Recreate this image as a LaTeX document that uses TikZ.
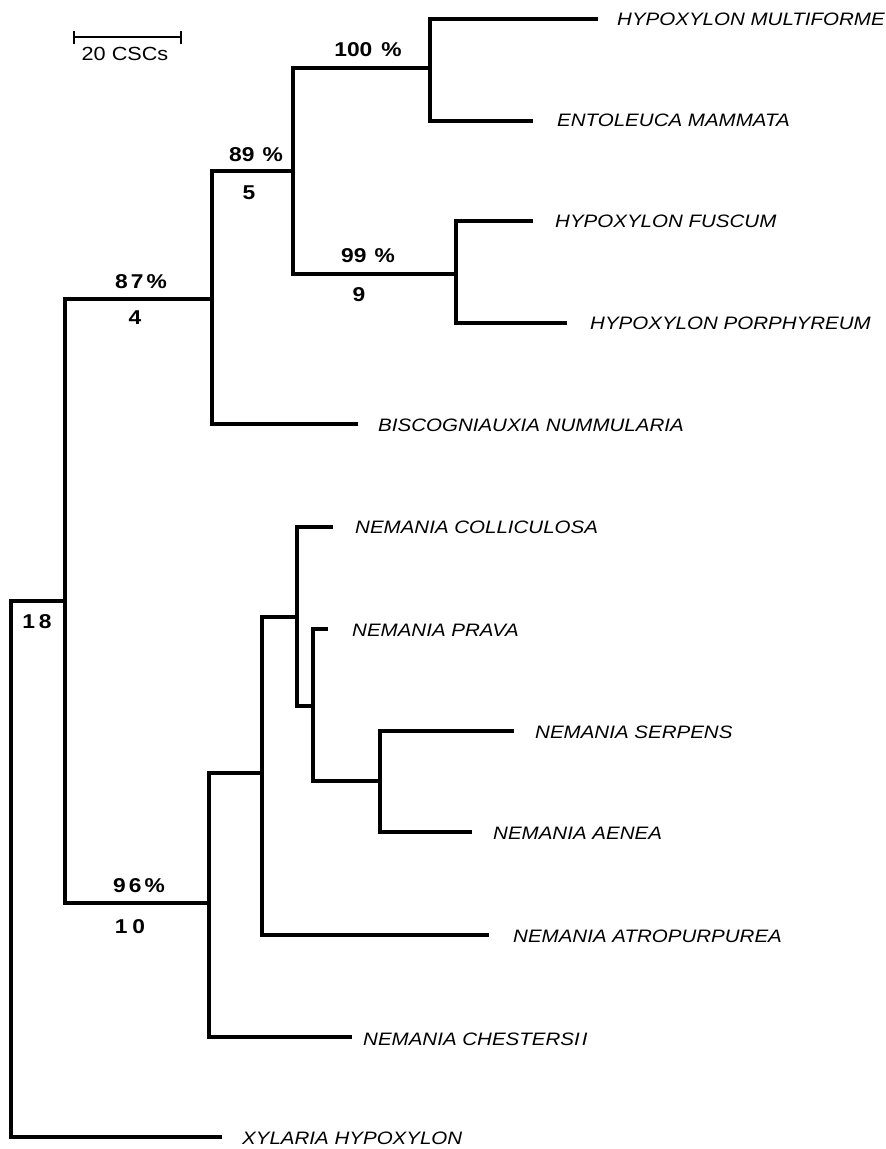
\documentclass[tikz,border=0pt]{standalone}
\usepackage{fontspec}
\setmainfont[FakeStretch=1.14]{Liberation Sans}
\begin{document}
\begin{tikzpicture}[x=1pt,y=-1pt,
  branch/.style={line width=3.2pt,line cap=butt,line join=miter},
  taxon/.style={anchor=west,inner sep=0pt,font=\fontsize{18}{20}\selectfont\itshape},
  support/.style={inner sep=0pt,font=\fontsize{20}{22}\selectfont\bfseries},
  scalelabel/.style={inner sep=0pt,font=\fontsize{19}{21}\selectfont}]
\useasboundingbox (0,0) rectangle (886,1149);

% internal nodes (x of the vertical bar, y where the parent branch joins)
\coordinate (R) at (11,869);
\coordinate (A) at (65,601);
\coordinate (B) at (212,299);
\coordinate (C) at (293,171);
\coordinate (D) at (430,68);
\coordinate (E) at (456,274);
\coordinate (N) at (209,903);
\coordinate (F) at (262,773);
\coordinate (G) at (297,617);
\coordinate (H) at (313,706);
\coordinate (I) at (380,781);

% tips
\coordinate (tMul) at (598,19);
\coordinate (tEnt) at (533,121);
\coordinate (tFus) at (533,221);
\coordinate (tPor) at (567,323);
\coordinate (tBis) at (358,424);
\coordinate (tCol) at (333,527);
\coordinate (tPra) at (328,629);
\coordinate (tSer) at (514,731);
\coordinate (tAen) at (472,832);
\coordinate (tAtr) at (489,935);
\coordinate (tChe) at (352,1037);
\coordinate (tXyl) at (222,1137);

% branches
\draw[branch] (A) -| (R) |- (tXyl);
\draw[branch] (B) -| (A) |- (N);
\draw[branch] (C) -| (B) |- (tBis);
\draw[branch] (D) -| (C) |- (E);
\draw[branch] (tMul) -| (D) |- (tEnt);
\draw[branch] (tFus) -| (E) |- (tPor);
\draw[branch] (F) -| (N) |- (tChe);
\draw[branch] (G) -| (F) |- (tAtr);
\draw[branch] (tCol) -| (G) |- (H);
\draw[branch] (tPra) -| (H) |- (I);
\draw[branch] (tSer) -| (I) |- (tAen);

% taxon names
\node[taxon] (nMul) at (617,19)   {HYPOXYLON MULTIFORME};
\node[taxon] (nEnt) at (557,120)  {ENTOLEUCA MAMMATA};
\node[taxon] (nFus) at (555,221)  {HYPOXYLON FUSCUM};
\node[taxon] (nPor) at (590,323)  {HYPOXYLON PORPHYREUM};
\node[taxon] (nBis) at (378,425)  {BISCOGNIAUXIA NUMMULARIA};
\node[taxon] (nCol) at (355,527)  {NEMANIA COLLICULOSA};
\node[taxon] (nPra) at (352,630)  {NEMANIA PRAVA};
\node[taxon] (nSer) at (535,732)  {NEMANIA SERPENS};
\node[taxon] (nAen) at (493,833)  {NEMANIA AENEA};
\node[taxon] (nAtr) at (513,936)  {NEMANIA ATROPURPUREA};
\node[taxon] (nChe) at (363,1039) {NEMANIA CHESTERSI\hspace{2pt}I};
\node[taxon] (nXyl) at (242,1138) {XYLARIA HYPOXYLON};

% bootstrap values and branch lengths
\node[support] (s100) at (368,50)  {100\hspace{9pt}\%};
\node[support] (s89)  at (256,155) {89\hspace{8pt}\%};
\node[support] (l5)   at (249,193) {5};
\node[support] (s99)  at (368,256) {99\hspace{8pt}\%};
\node[support] (l9)   at (359,295) {9};
\node[support] (s87)  at (141,282) {8\hspace{3pt}7\hspace{3pt}\%};
\node[support] (l4)   at (135,318) {4};
\node[support] (l18)  at (37,622)  {1\hspace{4pt}8};
\node[support] (s96)  at (139,886) {9\hspace{3pt}6\hspace{3pt}\%};
\node[support] (l10)  at (130,927) {1\hspace{5pt}0};

% scale bar
\coordinate (sbL) at (74,37);
\coordinate (sbR) at (181,37);
\draw[line width=2.4pt] (sbL) -- (sbR);
\draw[line width=1.8pt] ([yshift=-7]sbL) -- ([yshift=6]sbL);
\draw[line width=1.8pt] ([yshift=-7]sbR) -- ([yshift=6]sbR);
\node[scalelabel] (sbText) at (125,54) {20 CSCs};
\end{tikzpicture}
\end{document}
